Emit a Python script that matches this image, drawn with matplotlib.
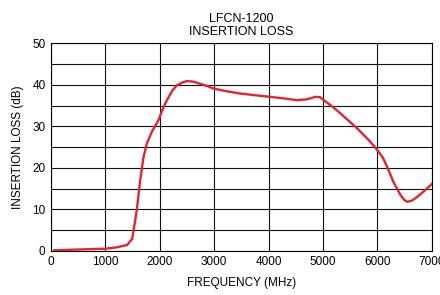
import matplotlib
matplotlib.use("Agg")
import matplotlib.pyplot as plt

plt.rcParams["font.family"] = ["Liberation Sans", "DejaVu Sans"]

# insertion loss curve
freq_mhz = [50, 500, 1000, 1200, 1400, 1490, 1520, 1550, 1580, 1640, 1700, 1763,
            1855, 1977, 2050, 2131, 2230, 2315, 2420, 2499, 2600, 2684, 2850,
            2991, 3250, 3482, 3750, 4034, 4300, 4526, 4700, 4863, 4950, 5017,
            5170, 5324, 5631, 5850, 5999, 6100, 6183, 6300, 6429, 6500, 6552,
            6640, 6736, 6880, 7012]
loss_db = [0.1, 0.3, 0.5, 0.8, 1.4, 2.8, 5.0, 7.5, 10.2, 17.0, 22.5, 25.9,
           28.7, 31.5, 34.0, 36.3, 38.6, 39.9, 40.6, 40.9, 40.8, 40.5, 39.8,
           39.1, 38.4, 37.9, 37.5, 37.1, 36.7, 36.3, 36.5, 37.1, 37.0, 36.3,
           34.8, 33.1, 29.5, 26.6, 24.3, 22.5, 20.2, 16.5, 13.4, 12.2, 11.8,
           12.1, 13.0, 14.6, 16.2]

x_ticks = [0, 1000, 2000, 3000, 4000, 5000, 6000, 7000]
y_ticks = [0, 10, 20, 30, 40, 50]

fig = plt.figure(figsize=(4.4, 2.95), dpi=100)
ax = fig.add_axes([0.116, 0.150, 0.865, 0.703])

ax.plot(freq_mhz, loss_db, color="#e4232c", linewidth=1.7, solid_capstyle="round", zorder=3)

ax.set_xlim(0, 7000)
ax.set_ylim(0, 50)
ax.set_xticks(x_ticks)
ax.set_yticks(y_ticks)
ax.set_yticks(range(5, 50, 10), minor=True)
ax.grid(True, which="both", color="#111111", linewidth=0.8)
ax.tick_params(which="both", length=0, labelsize=8.5, pad=4)
for s in ax.spines.values():
    s.set_linewidth(0.8)

ax.set_xlabel("FREQUENCY (MHz)", fontsize=8.5, labelpad=6)
ax.set_ylabel("INSERTION LOSS (dB)", fontsize=8.5, labelpad=6)
ax.set_title("LFCN-1200\nINSERTION LOSS", fontsize=9, linespacing=1.1, pad=6)

fig.savefig("out.png", dpi=100)
